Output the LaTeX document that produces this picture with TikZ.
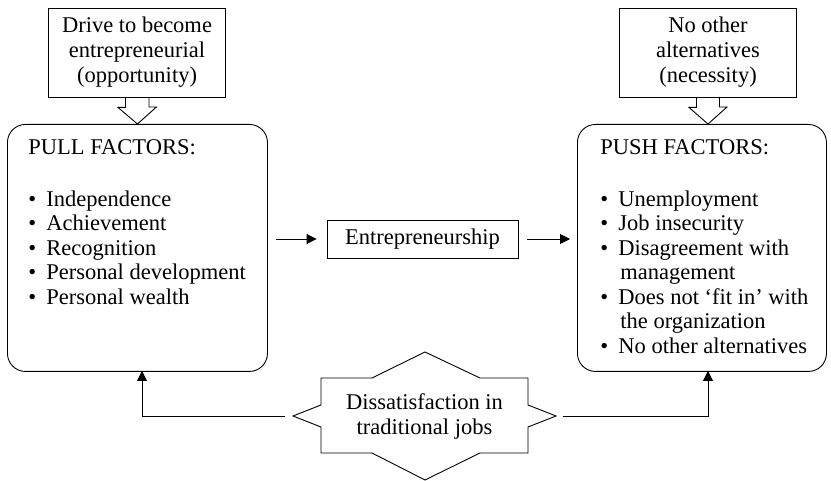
\documentclass[tikz,border=0pt]{standalone}
\usepackage{fontspec}
\setmainfont{Liberation Serif}
\usetikzlibrary{arrows.meta}
\begin{document}
\begin{tikzpicture}[x=1pt,y=-1pt,line width=0.9pt,
  font=\fontsize{22.5}{25}\selectfont,
  txt/.style={inner sep=0pt,anchor=base west},
  callout/.style={draw,minimum width=177pt,minimum height=89pt,align=center,inner sep=0pt},
  factorbox/.style={draw,rounded corners=18pt,minimum height=247pt,anchor=north west,inner sep=0pt},
  arr/.style={-{Triangle[length=10pt,width=10pt]}}]
\useasboundingbox (0,0) rectangle (831,481);

% callouts
\node[callout] (drive) at (137,52.5) {Drive to become\\entrepreneurial\\(opportunity)};
\node[callout] (noalt) at (708,52.5) {No other\\alternatives\\(necessity)};

% factor boxes
\node[factorbox,minimum width=260pt] (pull) at (7,124) {};
\node[factorbox,minimum width=249pt] (push) at (577,124) {};

% block arrows from callouts
\draw (drive.south) ++(-11.5,0) -- ++(0,10) -- ++(-7.5,0) -- (pull.north)
  -- ++(19,-17) -- ++(-7.5,0) -- ++(0,-10);
\coordinate (pushtop) at (708,124);
\draw (noalt.south) ++(-11.5,0) -- ++(0,10) -- ++(-7.5,0) -- (pushtop)
  -- ++(19,-17) -- ++(-7.5,0) -- ++(0,-10);

% pull text
\node[txt] (pullt) at (28,155) {PULL FACTORS:};
\foreach \t [count=\i] in {Independence,Achievement,Recognition,Personal development,Personal wealth}{
  \node[txt] (pb\i) at (28,182+24.5*\i) {•};
  \node[txt] (pl\i) at (46,182+24.5*\i) {\t};
}

% push text
\node[txt] (pusht) at (600,155) {PUSH FACTORS:};
\node[txt] (qb1) at (600,206.5) {•};
\node[txt] (ql1) at (618,206.5) {Unemployment};
\node[txt] (qb2) at (600,231) {•};
\node[txt] (ql2) at (618,231) {Job insecurity};
\node[txt] (qb3) at (600,255.5) {•};
\node[txt] (ql3) at (618,255.5) {Disagreement with};
\node[txt] (ql3b) at (620,280) {management};
\node[txt] (qb4) at (600,304.5) {•};
\node[txt] (ql4) at (618,304.5) {Does not ‘fit in’ with};
\node[txt] (ql4b) at (620,329) {the organization};
\node[txt] (qb5) at (600,353.5) {•};
\node[txt] (ql5) at (618,353.5) {No other alternatives};

% entrepreneurship
\node[draw,minimum width=191pt,minimum height=38pt,inner sep=0pt] (ent) at (422.5,239) {Entrepreneurship};
\draw[arr,shorten <=8pt,shorten >=10pt] (pull.east |- ent.west) -- (ent.west);
\draw[arr,shorten <=9pt,shorten >=7pt] (ent.east) -- (ent.east -| push.west);

% dissatisfaction star
\draw (321,378) -- (372,378) -- (425,352) -- (480,378) -- (528,378)
  -- (528,405) -- (556,416) -- (528,427) -- (528,453)
  -- (480,453) -- (425,480) -- (372,453) -- (321,453)
  -- (321,427) -- (293,416) -- (321,405) -- cycle;
\node[align=center,inner sep=0pt] (diss) at (424.5,416) {Dissatisfaction in\\traditional jobs};
\coordinate (dl) at (285,416);
\coordinate (dr) at (563,416);
\coordinate (pullin) at (142,371);
\coordinate (pushin) at (708,371);
\draw[arr] (dl) -| (pullin);
\draw[arr] (dr) -| (pushin);
\end{tikzpicture}
\end{document}
